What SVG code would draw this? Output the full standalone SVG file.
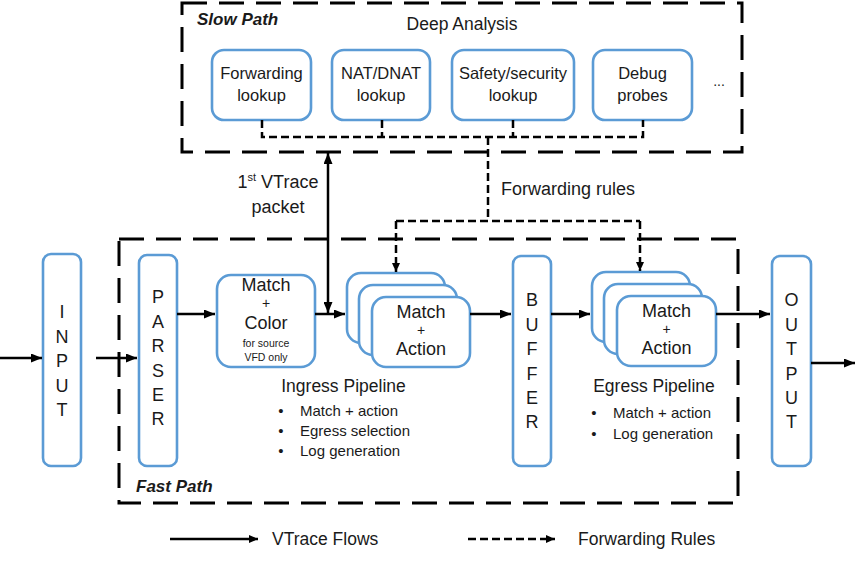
<svg xmlns="http://www.w3.org/2000/svg" width="864" height="562" viewBox="0 0 864 562">
<defs>
<style>
.box{fill:#fff;stroke:#5b9bd5;stroke-width:2.6}
.t{font-family:"Liberation Sans",Arial,sans-serif;fill:#1a1a1a;text-anchor:middle}
.s{font-family:"Liberation Sans",Arial,sans-serif;fill:#1a1a1a;text-anchor:start}
.region{fill:none;stroke:#000;stroke-width:3;stroke-dasharray:25 12}
.flow{fill:none;stroke:#000;stroke-width:2.5}
.rule{fill:none;stroke:#000;stroke-width:2.5;stroke-dasharray:8 4}
.lbl{font-weight:bold;font-style:italic}
</style>
<marker id="ah" markerUnits="userSpaceOnUse" markerWidth="11" markerHeight="9" refX="11" refY="4.5" orient="auto-start-reverse">
<path d="M0,0 L11,4.5 L0,9 z" fill="#000"/>
</marker>
<marker id="ahs" markerUnits="userSpaceOnUse" markerWidth="9" markerHeight="8" refX="9" refY="4" orient="auto">
<path d="M0,0 L9,4 L0,8 z" fill="#000"/>
</marker>
</defs>
<rect width="864" height="562" fill="#fff"/>

<g id="slow-path">
<rect class="region" x="182" y="3" width="560" height="149"/>
<text class="s lbl" x="197" y="25" font-size="17">Slow Path</text>
<text class="t" x="462" y="30" font-size="17.5">Deep Analysis</text>
</g>

<g id="fast-path">
<rect class="region" x="119" y="239" width="619" height="264"/>
<text class="s lbl" x="136" y="492" font-size="17">Fast Path</text>
</g>

<g id="forwarding-lookup">
<rect class="box" x="212" y="50" width="99" height="70" rx="12"/>
<text class="t" x="261.5" y="79" font-size="16.5">Forwarding</text>
<text class="t" x="261.5" y="101" font-size="16.5">lookup</text>
</g>
<g id="nat-lookup">
<rect class="box" x="332" y="50" width="98" height="70" rx="12"/>
<text class="t" x="381" y="79" font-size="16.5">NAT/DNAT</text>
<text class="t" x="381" y="101" font-size="16.5">lookup</text>
</g>
<g id="security-lookup">
<rect class="box" x="452" y="50" width="122" height="70" rx="12"/>
<text class="t" x="513" y="79" font-size="16.5">Safety/security</text>
<text class="t" x="513" y="101" font-size="16.5">lookup</text>
</g>
<g id="debug-probes">
<rect class="box" x="593" y="50" width="99" height="70" rx="12"/>
<text class="t" x="642.5" y="79" font-size="16.5">Debug</text>
<text class="t" x="642.5" y="101" font-size="16.5">probes</text>
</g>
<g id="more">
<text class="t" x="719" y="86" font-size="14">...</text>
</g>

<g id="input">
<rect class="box" x="43" y="254" width="38" height="212" rx="8"/>
<text class="t" font-size="18"><tspan x="62" y="318">I</tspan><tspan x="62" y="342.5">N</tspan><tspan x="62" y="367">P</tspan><tspan x="62" y="391.5">U</tspan><tspan x="62" y="416">T</tspan></text>
</g>

<g id="parser">
<rect class="box" x="139" y="255" width="38" height="211" rx="8"/>
<text class="t" font-size="18"><tspan x="158" y="303">P</tspan><tspan x="158" y="327.5">A</tspan><tspan x="158" y="352">R</tspan><tspan x="158" y="376.5">S</tspan><tspan x="158" y="401">E</tspan><tspan x="158" y="425">R</tspan></text>
</g>

<g id="match-color">
<rect class="box" x="217" y="275" width="98" height="92" rx="14"/>
<text class="t" x="266" y="291" font-size="18">Match</text>
<text class="t" x="266" y="308" font-size="14">+</text>
<text class="t" x="266" y="329" font-size="18">Color</text>
<text class="t" x="266" y="347" font-size="10.5">for source</text>
<text class="t" x="266" y="361" font-size="10.5">VFD only</text>
</g>

<g id="ingress-pipeline">
<rect class="box" x="347" y="273" width="98" height="70" rx="14"/>
<rect class="box" x="359" y="285" width="98" height="70" rx="14"/>
<rect class="box" x="372" y="297" width="98" height="70" rx="14"/>
<text class="t" x="421" y="318" font-size="18">Match</text>
<text class="t" x="421" y="335" font-size="14">+</text>
<text class="t" x="421" y="355" font-size="18">Action</text>
<text class="t" x="343.5" y="392" font-size="17.5">Ingress Pipeline</text>
<text class="t" x="281" y="416" font-size="15">•</text>
<text class="t" x="281" y="436" font-size="15">•</text>
<text class="t" x="281" y="456" font-size="15">•</text>
<text class="s" x="300" y="416" font-size="15">Match + action</text>
<text class="s" x="300" y="436" font-size="15">Egress selection</text>
<text class="s" x="300" y="456" font-size="15">Log generation</text>
</g>

<g id="buffer">
<rect class="box" x="513" y="256" width="38" height="210" rx="8"/>
<text class="t" font-size="18"><tspan x="532" y="306">B</tspan><tspan x="532" y="330.5">U</tspan><tspan x="532" y="355">F</tspan><tspan x="532" y="379.5">F</tspan><tspan x="532" y="404">E</tspan><tspan x="532" y="428">R</tspan></text>
</g>

<g id="egress-pipeline">
<rect class="box" x="592" y="272" width="98" height="70" rx="14"/>
<rect class="box" x="604" y="284" width="98" height="70" rx="14"/>
<rect class="box" x="617" y="296" width="99" height="70" rx="14"/>
<text class="t" x="666.5" y="317" font-size="18">Match</text>
<text class="t" x="666.5" y="334" font-size="14">+</text>
<text class="t" x="666.5" y="354" font-size="18">Action</text>
<text class="t" x="654" y="392" font-size="17.5">Egress Pipeline</text>
<text class="t" x="594" y="418" font-size="15">•</text>
<text class="t" x="594" y="439" font-size="15">•</text>
<text class="s" x="613" y="418" font-size="15">Match + action</text>
<text class="s" x="613" y="439" font-size="15">Log generation</text>
</g>

<g id="output">
<rect class="box" x="772" y="256" width="39" height="210" rx="8"/>
<text class="t" font-size="18"><tspan x="791.5" y="306">O</tspan><tspan x="791.5" y="330.5">U</tspan><tspan x="791.5" y="355">T</tspan><tspan x="791.5" y="379.5">P</tspan><tspan x="791.5" y="404">U</tspan><tspan x="791.5" y="428">T</tspan></text>
</g>

<g id="connectors">
<path class="rule" d="M262,120 V137 H643 V120 M382,120 V137 M513,120 V137"/>
<path class="rule" d="M488,137 V221"/>
<path class="rule" d="M396,221 H640"/>
<path class="rule" d="M396,221 V272" marker-end="url(#ahs)"/>
<path class="rule" d="M640,221 V271" marker-end="url(#ahs)"/>
<line class="flow" x1="0" y1="358" x2="42" y2="358" marker-end="url(#ah)"/>
<line class="flow" x1="96" y1="358" x2="137" y2="358" marker-end="url(#ah)"/>
<line class="flow" x1="177" y1="314" x2="215" y2="314" marker-end="url(#ah)"/>
<line class="flow" x1="315" y1="314" x2="345" y2="314" marker-end="url(#ah)"/>
<line class="flow" x1="328" y1="153" x2="328" y2="313" marker-start="url(#ah)" marker-end="url(#ah)"/>
<line class="flow" x1="470" y1="314" x2="511" y2="314" marker-end="url(#ah)"/>
<line class="flow" x1="551" y1="314" x2="590" y2="314" marker-end="url(#ah)"/>
<line class="flow" x1="716" y1="314" x2="770" y2="314" marker-end="url(#ah)"/>
<line class="flow" x1="811" y1="363" x2="855" y2="363" marker-end="url(#ah)"/>
<text class="t" x="278" y="188" font-size="18">1<tspan font-size="11" dy="-7">st</tspan><tspan dy="7"> VTrace</tspan></text>
<text class="t" x="278" y="213" font-size="18">packet</text>
<text class="s" x="501" y="195" font-size="18">Forwarding rules</text>
</g>

<g id="legend">
<line class="flow" x1="170" y1="539" x2="258" y2="539" marker-end="url(#ahs)"/>
<text class="s" x="272" y="545" font-size="17.5">VTrace Flows</text>
<line class="rule" x1="468" y1="539" x2="555" y2="539" marker-end="url(#ahs)"/>
<text class="s" x="578" y="545" font-size="17.5">Forwarding Rules</text>
</g>
</svg>
